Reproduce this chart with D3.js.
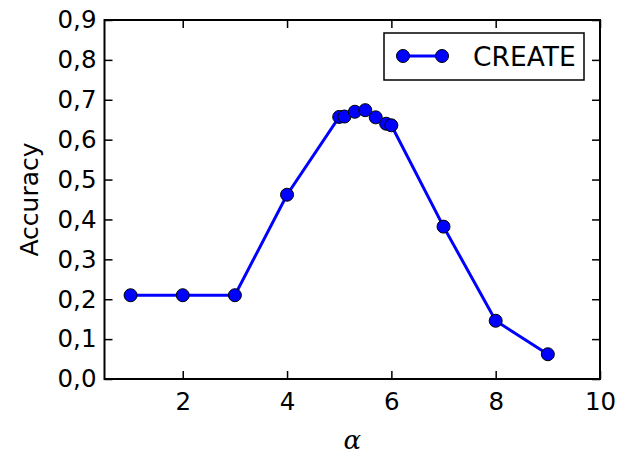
<!DOCTYPE html>
<html>
<head>
<meta charset="utf-8">
<script src="https://cdn.jsdelivr.net/npm/d3@7"></script>
<style>
  html, body { margin: 0; padding: 0; background: #ffffff; }
  svg { display: block; }
</style>
</head>
<body>
<svg id="chart" width="621" height="454"></svg>
<script>
// ---- data ----
const alphaValues = [1, 2, 3, 4, 5.0, 5.1, 5.3, 5.5, 5.7, 5.9, 6.0, 7, 8, 9];
const accuracyValues = [0.21, 0.21, 0.21, 0.462, 0.657, 0.658, 0.670, 0.674, 0.656, 0.640, 0.636, 0.382, 0.146, 0.062];
const seriesName = "CREATE";
const xTickValues = [2, 4, 6, 8, 10];
const xTickLabels = ["2", "4", "6", "8", "10"];
const yTickValues = [0, 0.1, 0.2, 0.3, 0.4, 0.5, 0.6, 0.7, 0.8, 0.9];
const yTickLabels = ["0,0", "0,1", "0,2", "0,3", "0,4", "0,5", "0,6", "0,7", "0,8", "0,9"];
const xDomain = [0.5, 10];
const yDomain = [0, 0.9];

// ---- layout ----
const svg = d3.select("#chart");
const mLeft = 104.5, mRight = 600, mTop = 20, mBottom = 379;
const font = "'DejaVu Sans', sans-serif";
const blue = "#0000ff";

const x = d3.scaleLinear().domain(xDomain).range([mLeft, mRight]);
const y = d3.scaleLinear().domain(yDomain).range([mBottom, mTop]);

const tickLen = 8;
function styleAxis(g) {
  g.select(".domain").remove();
  g.selectAll(".tick line").attr("stroke", "#000").attr("stroke-width", 1.5);
  g.selectAll(".tick text").attr("font-family", font).attr("font-size", 24.5).attr("fill", "#000");
}

// bottom axis (ticks inward, labels outside)
const xAxisB = svg.append("g").attr("transform", `translate(0,${mBottom})`)
  .call(d3.axisBottom(x).tickValues(xTickValues).tickFormat((d, i) => xTickLabels[i]).tickSizeInner(-tickLen).tickSizeOuter(0).tickPadding(14));
styleAxis(xAxisB);
// top axis ticks
const xAxisT = svg.append("g").attr("transform", `translate(0,${mTop})`)
  .call(d3.axisTop(x).tickValues(xTickValues).tickFormat("").tickSizeInner(-tickLen).tickSizeOuter(0));
styleAxis(xAxisT);
// left axis
const yAxisL = svg.append("g").attr("transform", `translate(${mLeft},0)`)
  .call(d3.axisLeft(y).tickValues(yTickValues).tickFormat((d, i) => yTickLabels[i]).tickSizeInner(-tickLen).tickSizeOuter(0).tickPadding(8));
styleAxis(yAxisL);
// right axis
const yAxisR = svg.append("g").attr("transform", `translate(${mRight},0)`)
  .call(d3.axisRight(y).tickValues(yTickValues).tickFormat("").tickSizeInner(-tickLen).tickSizeOuter(0));
styleAxis(yAxisR);

// frame
svg.append("rect")
  .attr("x", mLeft).attr("y", mTop)
  .attr("width", mRight - mLeft).attr("height", mBottom - mTop)
  .attr("fill", "none").attr("stroke", "#000").attr("stroke-width", 2);

// line
const data = alphaValues.map((a, i) => ({ a, v: accuracyValues[i] }));
svg.append("path")
  .datum(data)
  .attr("fill", "none")
  .attr("stroke", blue)
  .attr("stroke-width", 3)
  .attr("d", d3.line().x(d => x(d.a)).y(d => y(d.v)));

svg.append("g").selectAll("circle")
  .data(data)
  .join("circle")
  .attr("cx", d => x(d.a))
  .attr("cy", d => y(d.v))
  .attr("r", 6.5)
  .attr("fill", blue)
  .attr("stroke", "#000")
  .attr("stroke-width", 1);

// axis labels
svg.append("text")
  .attr("transform", `translate(38,${(mTop + mBottom) / 2}) rotate(-90)`)
  .attr("text-anchor", "middle")
  .attr("font-family", font)
  .attr("font-size", 25)
  .text("Accuracy");

svg.append("text")
  .attr("x", (mLeft + mRight) / 2)
  .attr("y", 449)
  .attr("text-anchor", "middle")
  .attr("font-family", "'DejaVu Serif', serif")
  .attr("font-style", "italic")
  .attr("font-size", 26)
  .text("α");

// legend
const lg = svg.append("g");
lg.append("rect")
  .attr("x", 384).attr("y", 33)
  .attr("width", 200).attr("height", 47)
  .attr("fill", "#fff").attr("stroke", "#000").attr("stroke-width", 1.5);
lg.append("line")
  .attr("x1", 403).attr("x2", 442).attr("y1", 56).attr("y2", 56)
  .attr("stroke", blue).attr("stroke-width", 3);
[403, 442].forEach(cx => lg.append("circle")
  .attr("cx", cx).attr("cy", 56).attr("r", 6.5)
  .attr("fill", blue).attr("stroke", "#000").attr("stroke-width", 1));
lg.append("text")
  .attr("x", 473).attr("y", 65.5)
  .attr("font-family", font)
  .attr("font-size", 26.5)
  .text(seriesName);
</script>
</body>
</html>
